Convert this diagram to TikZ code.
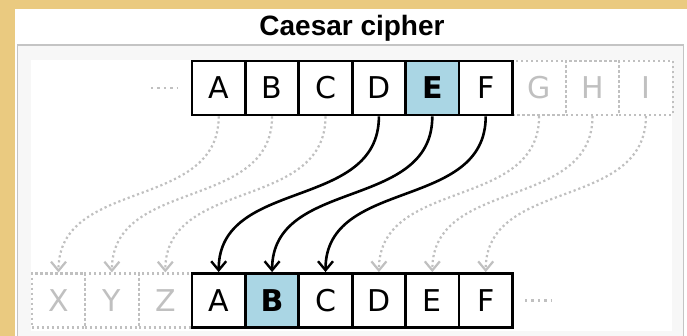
\documentclass[tikz,border=0pt]{standalone}
\usepackage{fontspec}
\setmainfont{DejaVu Sans}
\newfontfamily\titlefont{Liberation Sans}
\usetikzlibrary{arrows.meta}
\definecolor{parch}{RGB}{234,202,128}
\definecolor{framegray}{RGB}{196,196,196}
\definecolor{panelgray}{RGB}{247,247,247}
\definecolor{ghost}{RGB}{192,192,192}
\definecolor{hl}{RGB}{170,214,228}
\begin{document}
\begin{tikzpicture}[x=1pt,y=-1pt,
  lettersize/.style={font=\fontsize{30}{30}\selectfont},
  letter/.style={draw=black, line width=2.8pt, fill=white, minimum width=53.4pt,
    minimum height=54pt, inner sep=0pt, lettersize},
  hlbox/.style={letter, fill=hl, font=\fontsize{30}{30}\selectfont\bfseries},
  ghostbox/.style={draw=ghost, line width=2.2pt, dash pattern=on 2.2pt off 2.8pt,
    minimum width=53.4pt, minimum height=54pt, inner sep=0pt, text=ghost, lettersize},
  shiftarrow/.style={-{Straight Barb[length=9pt,width=15pt,line width=2.4pt]},
    line width=2.6pt, draw=black},
  ghostarrow/.style={-{Straight Barb[length=9pt,width=15pt,line width=2.2pt]},
    line width=2.2pt, draw=ghost, dash pattern=on 2.2pt off 2.8pt},
  ellipsisdots/.style={draw=ghost, line width=2.6pt, dash pattern=on 2.4pt off 4pt}
]
% background and panels
\fill[parch] (0,0) rectangle (687,336);
\useasboundingbox (0,0) rectangle (687,336);
\fill[white] (15,9) rectangle (687,336);
\filldraw[fill=panelgray, draw=framegray, line width=1.5pt] (17.5,45) rectangle (683.5,340);
\fill[white] (31,60) rectangle (672,331);

\node[font=\titlefont\bfseries\fontsize{28}{28}\selectfont] (title) at (352,28) {Caesar cipher};

% top row
\node[ghostbox] (tG) at (539.1,88) {G};
\node[ghostbox] (tH) at (592.5,88) {H};
\node[ghostbox] (tI) at (645.9,88) {I};
\node[letter] (tA) at (218.7,88) {A};
\node[letter] (tB) at (272.1,88) {B};
\node[letter] (tC) at (325.5,88) {C};
\node[letter] (tD) at (378.9,88) {D};
\node[hlbox]  (tE) at (432.3,88) {E};
\node[letter] (tF) at (485.7,88) {F};

% bottom row
\node[ghostbox] (bX) at (58.5,300.5) {X};
\node[ghostbox] (bY) at (111.9,300.5) {Y};
\node[ghostbox] (bZ) at (165.3,300.5) {Z};
\node[letter] (bA) at (218.7,300.5) {A};
\node[hlbox]  (bB) at (272.1,300.5) {B};
\node[letter] (bC) at (325.5,300.5) {C};
\node[letter] (bD) at (378.9,300.5) {D};
\node[letter] (bE) at (432.3,300.5) {E};
\node[letter] (bF) at (485.7,300.5) {F};

% ellipses
\coordinate (e1a) at (151,88);
\coordinate (e1b) at (178,88);
\draw[ellipsisdots] (e1a) -- (e1b);
\coordinate (e2a) at (525,300.5);
\coordinate (e2b) at (552,300.5);
\draw[ellipsisdots] (e2a) -- (e2b);

% shifts
\foreach \s/\t in {tA/bX, tB/bY, tC/bZ, tG/bD, tH/bE, tI/bF}
  \draw[ghostarrow] (\s.south) .. controls +(0,95) and +(0,-95) .. (\t.north);
\foreach \s/\t in {tD/bA, tE/bB, tF/bC}
  \draw[shiftarrow] (\s.south) .. controls +(0,95) and +(0,-95) .. (\t.north);
\end{tikzpicture}
\end{document}
